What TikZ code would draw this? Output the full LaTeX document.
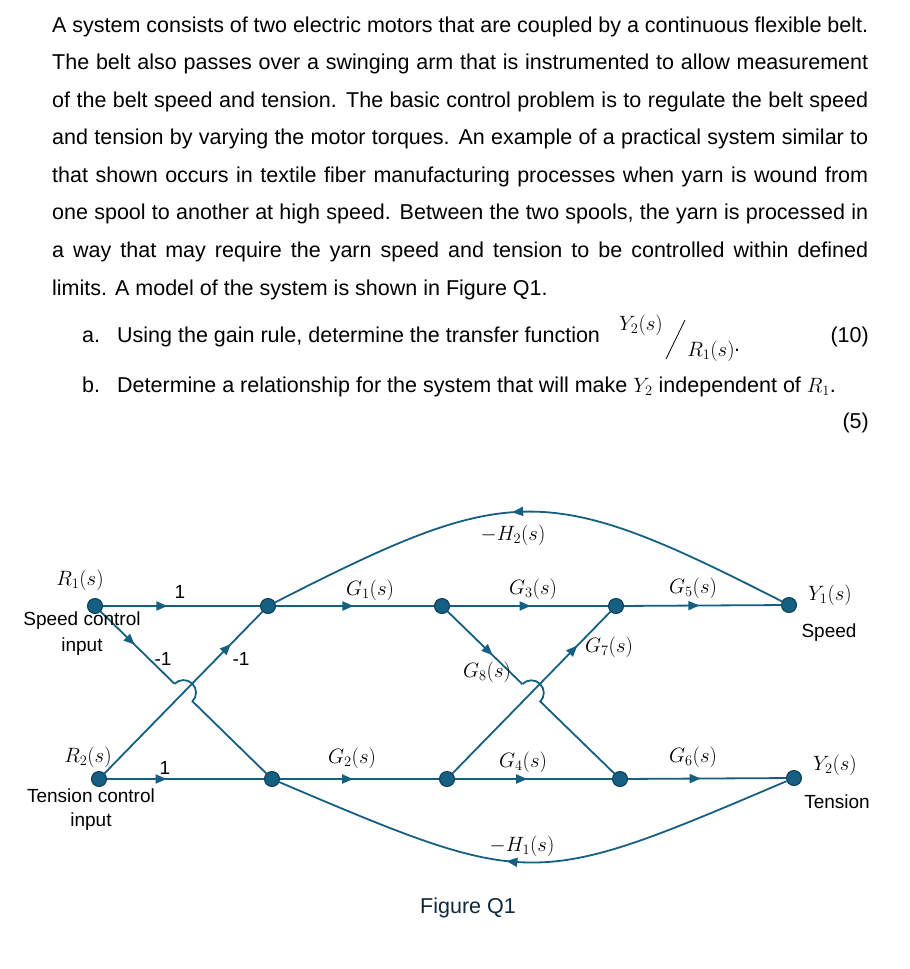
\documentclass[tikz,border=0pt]{standalone}
\usepackage[no-math]{fontspec}
\setmainfont{Liberation Sans}
\usetikzlibrary{arrows.meta,decorations.markings,calc}
\definecolor{linec}{HTML}{156082}
\definecolor{nodeb}{HTML}{0E3A52}
\definecolor{figc}{HTML}{0E2841}
\tikzset{
  vtx/.style={circle, fill=linec, draw=nodeb, line width=1pt, minimum size=15pt, inner sep=0pt},
  conn/.style={draw=linec, line width=1.8pt},
  midarrow/.style={postaction={decorate, decoration={markings, mark=at position #1 with {\arrow[linec]{Triangle[length=11pt,width=9pt]}}}}},
  txt/.style={inner sep=0pt, font=\fontsize{21.5}{25}\selectfont},
  lbl/.style={inner sep=0pt, font=\fontsize{19}{22}\selectfont},
  mlbl/.style={inner sep=0pt, font=\fontsize{20.74}{24}\selectfont},
}
\begin{document}
\begin{tikzpicture}[x=1pt,y=1pt]
\fill[white] (0,0) rectangle (910,-969);
\useasboundingbox (0,0) rectangle (910,-969);

% ---- problem text ----
\node[txt, anchor=base west] (t1) at (52,-32) {\makebox[816pt][s]{A system consists of two electric motors that are coupled by a continuous flexible belt.}};
\node[txt, anchor=base west] (t2) at (52,-69) {\makebox[816pt][s]{The belt also passes over a swinging arm that is instrumented to allow measurement}};
\node[txt, anchor=base west] (t3) at (52,-107) {\makebox[816pt][s]{of the belt speed and tension. The basic control problem is to regulate the belt speed}};
\node[txt, anchor=base west] (t4) at (52,-144) {\makebox[816pt][s]{and tension by varying the motor torques. An example of a practical system similar to}};
\node[txt, anchor=base west] (t5) at (52,-182) {\makebox[816pt][s]{that shown occurs in textile fiber manufacturing processes when yarn is wound from}};
\node[txt, anchor=base west] (t6) at (52,-219) {\makebox[816pt][s]{one spool to another at high speed. Between the two spools, the yarn is processed in}};
\node[txt, anchor=base west] (t7) at (52,-257) {\makebox[816pt][s]{a way that may require the yarn speed and tension to be controlled within defined}};
\node[txt, anchor=base west] (t8) at (52,-295) {limits. A model of the system is shown in Figure Q1.};

\node[txt, anchor=base west] (qa) at (82,-342) {a.};
\node[txt, anchor=base west] (qat) at (117,-342) {Using the gain rule, determine the transfer function};
\node[mlbl] (fnum) at (641,-325) {$Y_2(s)$};
\node[mlbl] (fden) at (711,-351) {$R_1(s)$};
\draw[line width=0.8pt] (666,-359) -- (685,-320);
\node[txt, anchor=base] (fdot) at (737,-351) {.};
\node[txt, anchor=base east] (ma) at (869,-342) {(10)};

\node[txt, anchor=base west] (qb) at (82,-392) {b.};
\node[txt, anchor=base west] (qbt) at (117,-392) {Determine a relationship for the system that will make $Y_2$ independent of $R_1$.};
\node[txt, anchor=base east] (mb) at (869,-428) {(5)};

% ---- signal flow graph nodes ----
\node[vtx] (R1) at (95,-606) {};
\node[vtx] (n1) at (268,-606) {};
\node[vtx] (n2) at (442,-606) {};
\node[vtx] (n3) at (616,-606) {};
\node[vtx] (Y1) at (789,-605) {};
\node[vtx] (R2) at (99,-779) {};
\node[vtx] (n4) at (272,-779) {};
\node[vtx] (n5) at (447,-779) {};
\node[vtx] (n6) at (620,-779) {};
\node[vtx] (Y2) at (794,-778) {};

\coordinate (X1) at (intersection of R1--n4 and R2--n1);
\coordinate (X2) at (intersection of n2--n6 and n5--n3);
\coordinate (A1) at ($(X1)!12.5pt!(R1)$);
\coordinate (B1) at ($(X2)!12.5pt!(n2)$);

% horizontal branches
\draw[conn, midarrow=0.41] (R1) -- (n1);
\draw[conn, midarrow=0.38] (R2) -- (n4);
\draw[conn, midarrow=0.49] (n1) -- (n2);
\draw[conn, midarrow=0.51] (n2) -- (n3);
\draw[conn, midarrow=0.48] (n3) -- (Y1);
\draw[conn, midarrow=0.46] (n4) -- (n5);
\draw[conn, midarrow=0.46] (n5) -- (n6);
\draw[conn, midarrow=0.46] (n6) -- (Y2);

% diagonal branches
\draw[conn, midarrow=0.80] (R2) -- (n1);
\draw[conn, midarrow=0.79] (n5) -- (n3);
\draw[conn, midarrow=0.46] (R1) -- (A1);
\draw[conn] let \p1=($(n4)-(R1)$), \n1={atan2(\y1,\x1)} in
  (A1) arc[start angle=\n1+180, delta angle=-180, radius=12.5pt] -- (n4);
\draw[conn, midarrow=0.60] (n2) -- (B1);
\draw[conn] let \p1=($(n6)-(n2)$), \n1={atan2(\y1,\x1)} in
  (B1) arc[start angle=\n1+180, delta angle=-180, radius=12.5pt] -- (n6);

% feedback branches
\draw[conn, midarrow=0.53] (Y1) .. controls (546,-481) and (511,-482) .. (n1);
\draw[conn, midarrow=0.55] (Y2) .. controls (533,-889) and (533,-890) .. (n4);

% branch labels
\node[lbl] (l1a) at (180,-592) {1};
\node[lbl] (l1b) at (165,-768) {1};
\node[lbl] (lm1a) at (163,-659) {-1};
\node[lbl] (lm1b) at (241,-659) {-1};
\node[mlbl] (lG1) at (370,-590) {$G_1(s)$};
\node[mlbl] (lG3) at (533,-589) {$G_3(s)$};
\node[mlbl] (lG5) at (693,-588) {$G_5(s)$};
\node[mlbl] (lG2) at (352,-758) {$G_2(s)$};
\node[mlbl] (lG4) at (523,-762) {$G_4(s)$};
\node[mlbl] (lG6) at (693,-757) {$G_6(s)$};
\node[mlbl] (lG8) at (487,-672) {$G_8(s)$};
\node[mlbl] (lG7) at (609,-647) {$G_7(s)$};
\node[mlbl] (lH2) at (513,-535) {$-H_2(s)$};
\node[mlbl] (lH1) at (522,-846) {$-H_1(s)$};

% node labels
\node[mlbl] (lR1) at (80,-580) {$R_1(s)$};
\node[lbl] (lsc) at (82,-621) {Speed control};
\node[lbl] (lsi) at (82,-647) {input};
\node[mlbl] (lR2) at (88,-757) {$R_2(s)$};
\node[lbl] (ltc) at (91,-796) {Tension control};
\node[lbl] (lti) at (91,-822) {input};
\node[mlbl] (lY1) at (830,-595) {$Y_1(s)$};
\node[lbl] (lsp) at (829,-633) {Speed};
\node[mlbl] (lY2) at (835,-765) {$Y_2(s)$};
\node[lbl] (lte) at (837,-802) {Tension};

\node[txt, anchor=base, text=figc] (fig) at (468,-913) {Figure Q1};
\end{tikzpicture}
\end{document}
